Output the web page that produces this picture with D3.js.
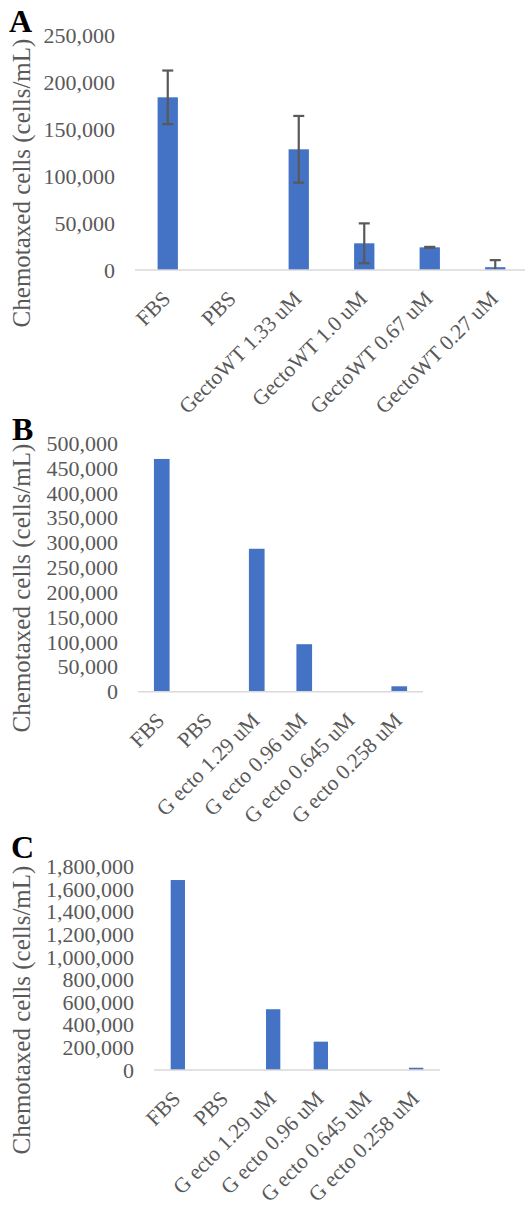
<!DOCTYPE html>
<html>
<head>
<meta charset="utf-8">
<script src="https://cdn.jsdelivr.net/npm/d3@7/dist/d3.min.js"></script>
<style>
  html, body { margin: 0; padding: 0; background: #fff; }
  svg { display: block; }
</style>
</head>
<body>
<svg id="chart" width="525" height="1205"></svg>
<script>
// ---- Data ----
const catsA = ["FBS", "PBS", "GectoWT 1.33 uM", "GectoWT 1.0 uM", "GectoWT 0.67 uM", "GectoWT 0.27 uM"];
const valsA = [183700, 0, 128400, 28400, 24100, 3000];
const errA  = [28500, 0, 35500, 21200, 500, 7500];
const ticksA = [0, 50000, 100000, 150000, 200000, 250000];

const catsB = ["FBS", "PBS", "G ecto 1.29 uM", "G ecto 0.96 uM", "G ecto 0.645 uM", "G ecto 0.258 uM"];
const valsB = [468500, 0, 287700, 95600, 0, 10900];
const ticksB = [0, 50000, 100000, 150000, 200000, 250000, 300000, 350000, 400000, 450000, 500000];

const catsC = ["FBS", "PBS", "G ecto 1.29 uM", "G ecto 0.96 uM", "G ecto 0.645 uM", "G ecto 0.258 uM"];
const valsC = [1682000, 0, 538000, 251000, 0, 20000];
const ticksC = [0, 200000, 400000, 600000, 800000, 1000000, 1200000, 1400000, 1600000, 1800000];

const yTitle = "Chemotaxed cells (cells/mL)";

// ---- Drawing ----
const svg = d3.select("#chart");
const FONT = "'Liberation Serif', 'Times New Roman', serif";
const GREY = "#595959";
const BLUE = "#4472C4";

function drawPanel(p) {
  const g = svg.append("g");
  const x = d3.scaleBand().domain(p.cats).range([p.x0, p.x1])
    .paddingInner(p.pad).paddingOuter(p.pad / 2);
  const y = d3.scaleLinear().domain([0, p.max]).range([p.yBase, p.yTop]);

  // y axis labels (no line)
  const ax = g.append("g").attr("transform", `translate(${p.x0},0)`)
    .call(d3.axisLeft(y).tickValues(p.ticks).tickFormat(d3.format(",")).tickSize(0).tickPadding(20));
  ax.select(".domain").remove();
  ax.selectAll("text").attr("font-family", FONT).attr("font-size", 22).attr("fill", GREY);

  // bars
  g.selectAll("rect.bar").data(p.vals).enter().append("rect")
    .attr("class", "bar")
    .attr("x", (d, i) => x(p.cats[i]))
    .attr("width", x.bandwidth())
    .attr("y", d => y(d))
    .attr("height", d => y(0) - y(d))
    .attr("fill", BLUE);

  // error bars (clipped at the axis like the original)
  if (p.errs) {
    const eg = g.append("g").attr("stroke", GREY).attr("stroke-width", 2.2);
    p.vals.forEach((v, i) => {
      const e = p.errs[i];
      if (!e || v === 0) return;
      const cx = x(p.cats[i]) + x.bandwidth() / 2;
      const lo = Math.max(0, v - e);
      eg.append("line").attr("x1", cx).attr("x2", cx).attr("y1", y(v + e)).attr("y2", y(lo));
      eg.append("line").attr("x1", cx - 5.5).attr("x2", cx + 5.5).attr("y1", y(v + e)).attr("y2", y(v + e));
      if (v - e >= 0) {
        eg.append("line").attr("x1", cx - 5.5).attr("x2", cx + 5.5).attr("y1", y(lo)).attr("y2", y(lo));
      }
    });
  }

  // baseline
  g.append("line").attr("x1", p.x0).attr("x2", p.x1).attr("y1", y(0)).attr("y2", y(0))
    .attr("stroke", "#d9d9d9").attr("stroke-width", 1.5);

  // x labels
  g.selectAll("text.xl").data(p.cats).enter().append("text")
    .attr("class", "xl")
    .attr("transform", d => `translate(${x(d) + x.bandwidth() / 2 + 4},${y(0) + 30}) rotate(-45)`)
    .attr("text-anchor", "end")
    .attr("font-family", FONT).attr("font-size", 21.5).attr("fill", GREY)
    .text(d => d);

  // y title
  g.append("text")
    .attr("transform", `translate(30,${p.titleY}) rotate(-90)`)
    .attr("text-anchor", "middle")
    .attr("font-family", FONT).attr("font-size", 25).attr("fill", GREY)
    .text(yTitle);

  // panel letter
  g.append("text")
    .attr("x", p.letterX).attr("y", p.letterY)
    .attr("font-family", FONT).attr("font-size", 32).attr("font-weight", "bold").attr("fill", "#000")
    .text(p.letter);
}

drawPanel({ cats: catsA, vals: valsA, errs: errA, ticks: ticksA, max: 250000,
  x0: 135, x1: 528, yBase: 270, yTop: 35, pad: 0.69, titleY: 183, letter: "A", letterX: 9, letterY: 32 });
drawPanel({ cats: catsB, vals: valsB, errs: null, ticks: ticksB, max: 500000,
  x0: 138, x1: 423, yBase: 691.7, yTop: 443.3, pad: 0.67, titleY: 588, letter: "B", letterX: 12, letterY: 440 });
drawPanel({ cats: catsC, vals: valsC, errs: null, ticks: ticksC, max: 1800000,
  x0: 154, x1: 440, yBase: 1070, yTop: 866.7, pad: 0.7, titleY: 1010, letter: "C", letterX: 11, letterY: 858 });
</script>
</body>
</html>
